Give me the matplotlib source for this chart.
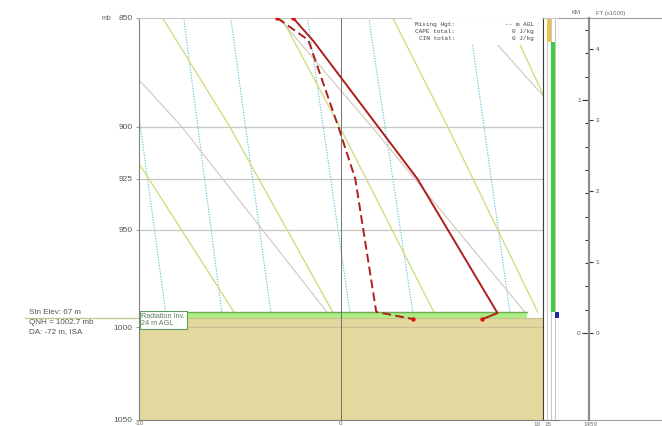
import matplotlib.pyplot as plt
import matplotlib.transforms as mtransforms
from matplotlib.patches import Rectangle

plt.rcParams['font.family'] = ['Liberation Sans', 'DejaVu Sans']

W, H = 662, 426

# --- sounding: x in skewed temperature units, pressure in mb ---
temp_p = [850, 860.3, 925, 992.6, 995.8]
temp_x = [-2.36, -1.36, 3.80, 7.77, 7.02]
dew_p = [850, 859.9, 900, 925, 992.0, 995.8]
dew_x = [-3.15, -1.61, -0.12, 0.72, 1.76, 3.60]

# background reference lines (x value at each pressure)
mix_p = [850, 992]
mix_x = [[-10.66, -8.68], [-7.78, -5.90], [-5.45, -3.47],
         [-1.64, 0.45], [1.39, 3.57], [6.35, 8.38]]
adiab_p = [850, 900, 992]
dry_x = [[-14.68, -11.16, -5.30], [-8.83, -5.50, -0.40], [-2.93, -0.05, 4.61],
         [2.58, 5.30, 9.76], [8.28, 10.76, 15.31]]
moist_x = [[-12.79, -7.88, -0.69], [-3.07, 1.54, 9.12], [6.59, 11.4, 19.05]]

p_levels = [850, 900, 925, 950, 1000, 1050]
p_grid = [900, 925, 950]
p_sfc = 995.2
inv_top = 992.0
inv_right = 9.22

# side strip layers
layer_col = [1, 2, 3]
layer_top = [850, 860.8, 992.0]
layer_bot = [860.8, 992.3, 995.2]
layer_color = ['#e6c64a', '#3fca3f', '#1a2aa8']

# height scale
km_lo, km_hi = -0.373, 1.352
km_major = [0, 1]
km_minor = [0.1, 0.2, 0.3, 0.4, 0.5, 0.6, 0.7, 0.8, 0.9, 1.1, 1.2, 1.3]
ft_ticks = [0, 1, 2, 3, 4]

info_labels = ['Mixing Hgt:', 'CAPE total:', 'CIN total:']
info_values = ['-- m AGL', '0 J/kg', '0 J/kg']
stn_lines = ['Stn Elev: 67 m', 'QNH = 1002.7 mb', 'DA: -72 m, ISA']


def box(x0, y0, x1, y1):
    # pixel box -> figure fraction
    return [x0 / W, 1 - y1 / H, (x1 - x0) / W, (y1 - y0) / H]


fig = plt.figure(figsize=(W / 100, H / 100), dpi=100)

# --- main skew-T panel ---
ax = fig.add_axes(box(139, 18, 542.5, 420))
ax.set_yscale('log')
ax.set_ylim(1050, 850)
ax.set_xlim(-10, 10)
ax.set_yticks(p_levels, labels=[str(p) for p in p_levels])
ax.set_yticks([], minor=True)
ax.tick_params(axis='y', length=2.5, width=0.6, color='#888888',
               labelsize=6, labelcolor='#555555', pad=2)
ax.set_xticks([-10, 0], labels=['-10', '0'])
ax.tick_params(axis='x', length=0, labelsize=4.5, labelcolor='#666666', pad=1)

for xs in mix_x:
    ax.plot(xs, mix_p, color='#5bbad8', lw=0.75, ls=(0, (1.2, 1.4)), zorder=1)
for xs in dry_x:
    ax.plot(xs, adiab_p, color='#cfdc7c', lw=0.95, zorder=1)
for xs in moist_x:
    ax.plot(xs, adiab_p, color='#d6c8c0', lw=0.85, zorder=1)

for p in p_grid:
    ax.axhline(p, color='#c6c6c6', lw=0.9, zorder=0.5)

# ground and radiation inversion layer
ax.axhspan(p_sfc, 1050, color='#e3d99f', lw=0, zorder=2)
ax.axhline(p_sfc, color='#c9c08e', lw=0.8, zorder=2.2)
ax.axhline(1000, color='#cbbf94', lw=0.9, zorder=2.3)
ax.fill_between([-10, inv_right], inv_top, p_sfc, color='#adee84', lw=0, zorder=2)
ax.plot([-10, inv_right], [inv_top, inv_top], color='#6faa55', lw=1.0, zorder=2.4)
ax.axvline(0, color='#707070', lw=0.7, zorder=3)

# surface line continues into the left margin
trans = mtransforms.blended_transform_factory(ax.transAxes, ax.transData)
ax.plot([-0.2825, 0], [p_sfc, p_sfc], transform=trans, clip_on=False,
        color='#c9c293', lw=0.9)

# temperature / dewpoint
ax.plot(temp_x, temp_p, color='#ad1f1c', lw=1.4, zorder=5)
ax.plot(dew_x, dew_p, color='#ad1f1c', lw=1.4, ls=(0, (4.5, 2.2)), zorder=5)
ax.plot([temp_x[0], temp_x[-1], dew_x[0], dew_x[-1]],
        [temp_p[0], temp_p[-1], dew_p[0], dew_p[-1]],
        'o', ms=2.2, color='#e01010', zorder=6)

# info box top right
ax.add_patch(Rectangle((0.677, 0.933), 0.322, 0.066, transform=ax.transAxes,
                       facecolor='white', edgecolor='none', zorder=4))
for i, (lab, val) in enumerate(zip(info_labels, info_values)):
    y = 0.985 - i * 0.0185
    ax.text(0.783, y, lab, transform=ax.transAxes, ha='right', va='center',
            fontsize=4.4, family='Liberation Mono', color='#444444', zorder=5)
    ax.text(0.979, y, val, transform=ax.transAxes, ha='right', va='center',
            fontsize=4.4, family='Liberation Mono', color='#444444', zorder=5)

ax.text(-9.88, inv_top + 0.6, 'Radiation Inv.\n24 m AGL', ha='left', va='top',
        fontsize=5.2, color='#5f7f5f', linespacing=0.95, zorder=7,
        bbox=dict(boxstyle='square,pad=0.25', fc='white', ec='#5c9c5c', lw=0.8))

for s in ['left', 'bottom']:
    ax.spines[s].set_color('#808080')
ax.spines['right'].set_color('#404040')
ax.spines['top'].set_color('#c8c8c8')

# --- narrow layer strip ---
ax_s = fig.add_axes(box(542.5, 18, 558.7, 420))
ax_s.set_yscale('log')
ax_s.set_ylim(1050, 850)
ax_s.set_xlim(0, 4)
ax_s.set_xticks([])
ax_s.set_yticks([])
ax_s.set_yticks([], minor=True)
for c in layer_col:
    ax_s.axvline(c, color='#bdbdbd', lw=0.6, zorder=1)
ax_s.bar([c + 0.5 for c in layer_col],
         [b - t for t, b in zip(layer_top, layer_bot)],
         bottom=layer_top, width=1.0, color=layer_color, zorder=2)
for s in ['left', 'right']:
    ax_s.spines[s].set_color('#404040')
ax_s.spines['top'].set_color('#c8c8c8')
ax_s.spines['bottom'].set_color('#808080')

# --- height scale (km / ft) ---
ax_h = fig.add_axes(box(558.7, 18, 662, 420))
ax_h.set_xlim(0, 1)
ax_h.set_ylim(km_lo, km_hi)
ax_h.set_xticks([])
ax_h.spines['left'].set_position(('axes', 0.293))
ax_h.spines['left'].set_color('#8c8c8c')
ax_h.spines['left'].set_linewidth(1.5)
ax_h.spines['right'].set_visible(False)
ax_h.spines['top'].set_color('#a0a0a0')
ax_h.spines['bottom'].set_color('#a0a0a0')
ax_h.set_yticks(km_major, labels=[str(k) for k in km_major])
ax_h.set_yticks(km_minor, minor=True)
ax_h.tick_params(axis='y', which='major', length=5, width=0.8, color='#333333',
                 labelsize=4.6, labelcolor='#555555', pad=1)
ax_h.tick_params(axis='y', which='minor', length=3, width=0.8, color='#333333')

ax_ft = ax_h.twinx()
ax_ft.set_ylim(km_lo / 0.3048, km_hi / 0.3048)
for s in ['left', 'top', 'bottom']:
    ax_ft.spines[s].set_visible(False)
ax_ft.spines['right'].set_position(('axes', 0.293))
ax_ft.spines['right'].set_color('#8c8c8c')
ax_ft.spines['right'].set_linewidth(1.5)
ax_ft.set_yticks(ft_ticks, labels=[str(f) for f in ft_ticks])
ax_ft.tick_params(axis='y', length=3, width=0.8, color='#333333',
                  labelsize=4.6, labelcolor='#555555', pad=2)

# --- loose labels ---
fig.text(111 / W, 1 - 18 / H, 'mb', ha='right', va='center', fontsize=5, color='#666666')
for i, s in enumerate(stn_lines):
    fig.text(29 / W, 1 - (312 + i * 10) / H, s, ha='left', va='center',
             fontsize=5.8, color='#555555')
fig.text(576 / W, 1 - 13 / H, 'KM', ha='center', va='center', fontsize=4.3, color='#666666')
fig.text(611 / W, 1 - 13 / H, 'FT (x1000)', ha='center', va='center', fontsize=4.3,
         color='#666666')
for x, s in [(537, '10'), (548, '15'), (590, '1450')]:
    fig.text(x / W, 1 - 421.5 / H, s, ha='center', va='top', fontsize=4.5, color='#666666')

fig.savefig('out.png', dpi=100)
